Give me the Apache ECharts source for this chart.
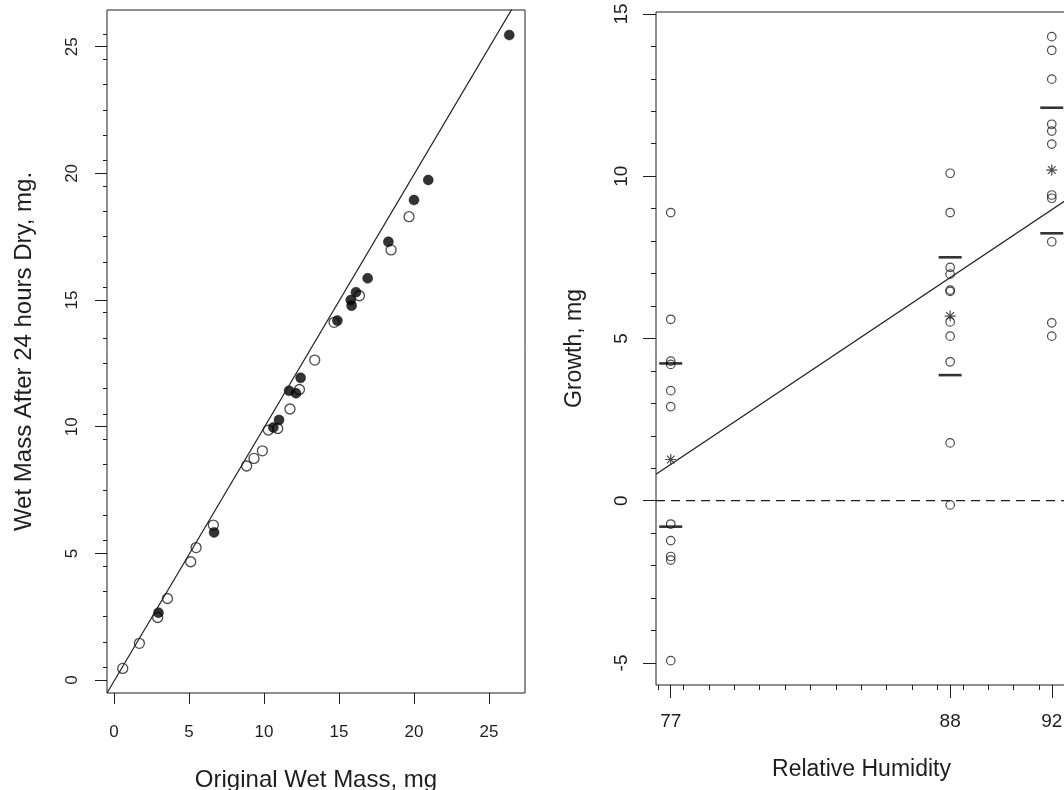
<!DOCTYPE html>
<html>
<head>
<meta charset="utf-8">
<script src="https://cdn.jsdelivr.net/npm/echarts@6/dist/echarts.min.js"></script>
<style>
    html, body { margin: 0; padding: 0; background: #fff; }
    #chart { width: 1064px; height: 790px; }
</style>
</head>
<body>
<div id="chart"></div>
<script>
// left panel: wet mass before / after 24h dry
var openMassX = [19.67, 18.47, 16.36, 14.67, 13.38, 12.36, 11.73, 10.91, 10.29, 9.89, 9.33, 8.84, 6.62, 5.47, 5.11, 3.56, 2.91, 1.69, 0.58];
var openMassY = [18.29, 16.98, 15.17, 14.12, 12.63, 11.47, 10.70, 9.93, 9.87, 9.05, 8.75, 8.45, 6.12, 5.23, 4.67, 3.22, 2.47, 1.45, 0.46];
var filledMassX = [26.35, 20.95, 20.0, 18.29, 16.91, 16.13, 15.78, 15.84, 14.89, 12.44, 11.67, 12.13, 11.0, 10.62, 6.67, 2.96];
var filledMassY = [25.46, 19.74, 18.95, 17.30, 15.86, 15.31, 15.0, 14.78, 14.19, 11.93, 11.42, 11.32, 10.27, 9.97, 5.83, 2.66];
var massFit = [-0.04, 1.0]; // intercept, slope

// right panel: growth by relative humidity
var humidity = [77, 88, 92];
var growth77 = [8.88, 5.59, 4.30, 4.20, 3.39, 2.90, -0.72, -1.23, -1.72, -1.83, -4.93];
var growth88 = [10.09, 8.88, 7.19, 6.98, 6.49, 6.45, 5.51, 5.07, 4.28, 1.78, -0.13];
var growth92 = [14.30, 13.88, 12.99, 11.60, 11.39, 10.99, 9.42, 9.32, 7.98, 5.48, 5.07];
var growthMean = [1.27, 5.69, 10.19];
var barUpper = [4.23, 7.50, 12.11];
var barLower = [-0.80, 3.87, 8.24];
var growthFit = [-39.15, 0.523]; // intercept, slope

// axes
var leftXTicks = [0, 5, 10, 15, 20, 25];
var leftYTicks = [0, 5, 10, 15, 20, 25];
var leftYMinor = [0.5, 1.5, 2.5, 3.5, 4.5, 5.5, 6.5, 7.5, 8.5, 9.5, 10.5, 11.5, 12.5, 13.5, 14.5, 15.5, 16.5, 17.5, 18.5, 19.5, 20.5, 21.5, 22.5, 23.5, 24.5, 25.5];
var rightXTicks = [77, 88, 92];
var rightXMinor = [76.5, 77.5, 78.5, 79.5, 80.5, 81.5, 82.5, 83.5, 84.5, 85.5, 86.5, 87.5, 88.5, 89.5, 90.5, 91.5, 92.5];
var rightYTicks = [-5, 0, 5, 10, 15];
var rightYMinor = [-5, -4, -3, -2, -1, 0, 1, 2, 3, 4, 5, 6, 7, 8, 9, 10, 11, 12, 13, 14, 15];
var leftXRange = [-0.47, 27.4];
var leftYRange = [-0.51, 26.45];
var rightXRange = [76.42, 92.6];
var rightYRange = [-5.68, 15.06];

var FONT = 'Liberation Sans, Arial, sans-serif';
var INK = '#1e1e1e';
var STAR = 'path://M0,5L10,5M5,0L5,10M1.5,1.5L8.5,8.5M8.5,1.5L1.5,8.5';

function pairs(xs, ys) {
    var out = [];
    for (var i = 0; i < xs.length; i++) out.push([xs[i], ys[i]]);
    return out;
}
function column(x, ys) {
    return ys.map(function (v) { return [x, v]; });
}
function fitLine(fit, range) {
    return [[range[0], fit[0] + fit[1] * range[0]], [range[1], fit[0] + fit[1] * range[1]]];
}

function valueAxis(grid, range, ticks, len, opts) {
    var ax = {
        type: 'value', gridIndex: grid, min: range[0], max: range[1],
        axisLine: { show: false, onZero: false },
        splitLine: { show: false },
        axisTick: { show: true, customValues: ticks, length: len, lineStyle: { color: INK, width: 1 } },
        axisLabel: { show: false }
    };
    for (var k in opts) ax[k] = opts[k];
    return ax;
}

var growthPoints = column(humidity[0], growth77).concat(column(humidity[1], growth88), column(humidity[2], growth92));

var myChart = echarts.init(document.getElementById('chart'));
var option = {
    backgroundColor: '#fff',
    animation: false,
    textStyle: { fontFamily: FONT },
    grid: [
        { left: 107, top: 10, width: 418, height: 683, outerBoundsMode: 'none', show: true, borderColor: INK, borderWidth: 1 },
        { left: 656, top: 12, width: 411, height: 673, outerBoundsMode: 'none', show: true, borderColor: INK, borderWidth: 1 }
    ],
    xAxis: [
        valueAxis(0, leftXRange, leftXTicks, 11, {
            position: 'bottom',
            axisLabel: { show: true, customValues: leftXTicks, fontSize: 17, color: INK, margin: 31, fontFamily: FONT },
            name: 'Original Wet Mass, mg', nameLocation: 'middle', nameGap: 75,
            nameTextStyle: { fontSize: 24, color: INK, fontFamily: FONT }
        }),
        valueAxis(1, rightXRange, rightXTicks, 13, {
            position: 'bottom',
            axisLabel: { show: true, customValues: rightXTicks, fontSize: 19, color: INK, margin: 27, fontFamily: FONT },
            name: 'Relative Humidity', nameLocation: 'middle', nameGap: 73,
            nameTextStyle: { fontSize: 23, color: INK, fontFamily: FONT }
        }),
        valueAxis(1, rightXRange, rightXMinor, 5, { position: 'bottom' })
    ],
    yAxis: [
        valueAxis(0, leftYRange, leftYTicks, 12, {
            position: 'left',
            axisLabel: { show: true, customValues: leftYTicks, rotate: 90, fontSize: 17, color: INK, margin: 26, fontFamily: FONT },
            name: 'Wet Mass After 24 hours Dry, mg.', nameLocation: 'middle', nameGap: 71,
            nameTextStyle: { fontSize: 24, color: INK, fontFamily: FONT }
        }),
        valueAxis(0, leftYRange, leftYMinor, 4, { position: 'left' }),
        valueAxis(1, rightYRange, rightYTicks, 13, {
            position: 'left',
            axisLabel: { show: true, customValues: rightYTicks, rotate: 90, fontSize: 19, color: INK, margin: 25, fontFamily: FONT },
            name: 'Growth, mg', nameLocation: 'middle', nameGap: 70,
            nameTextStyle: { fontSize: 23, color: INK, fontFamily: FONT }
        }),
        valueAxis(1, rightYRange, rightYMinor, 5, { position: 'left' })
    ],
    series: [
        {
            type: 'line', xAxisIndex: 0, yAxisIndex: 0, data: fitLine(massFit, leftXRange),
            showSymbol: false, clip: true, lineStyle: { color: INK, width: 1.2 }, silent: true
        },
        {
            type: 'scatter', xAxisIndex: 0, yAxisIndex: 0, data: pairs(openMassX, openMassY),
            symbol: 'circle', symbolSize: 10,
            itemStyle: { color: 'rgba(0,0,0,0)', borderColor: INK, borderWidth: 1.3 }
        },
        {
            type: 'scatter', xAxisIndex: 0, yAxisIndex: 0, data: pairs(filledMassX, filledMassY),
            symbol: 'circle', symbolSize: 10,
            itemStyle: { color: '#000', borderColor: '#000', borderWidth: 0.5 }
        },
        {
            type: 'line', xAxisIndex: 1, yAxisIndex: 2, data: [[rightXRange[0], 0], [rightXRange[1], 0]],
            showSymbol: false, clip: true, lineStyle: { color: INK, width: 1.2, type: [9, 6] }, silent: true
        },
        {
            type: 'line', xAxisIndex: 1, yAxisIndex: 2, data: fitLine(growthFit, rightXRange),
            showSymbol: false, clip: true, lineStyle: { color: INK, width: 1.2 }, silent: true
        },
        {
            type: 'scatter', xAxisIndex: 1, yAxisIndex: 2, data: growthPoints,
            symbol: 'circle', symbolSize: 8.5,
            itemStyle: { color: 'rgba(0,0,0,0)', borderColor: INK, borderWidth: 1.2 }
        },
        {
            type: 'scatter', xAxisIndex: 1, yAxisIndex: 2, data: pairs(humidity, barUpper).concat(pairs(humidity, barLower)),
            symbol: 'rect', symbolSize: [23, 2.6],
            itemStyle: { color: '#000' }
        },
        {
            type: 'scatter', xAxisIndex: 1, yAxisIndex: 2, data: pairs(humidity, growthMean),
            symbol: STAR, symbolSize: 11,
            itemStyle: { color: 'rgba(0,0,0,0)', borderColor: INK, borderWidth: 1.2 }
        }
    ]
};
myChart.setOption(option);
</script>
</body>
</html>
